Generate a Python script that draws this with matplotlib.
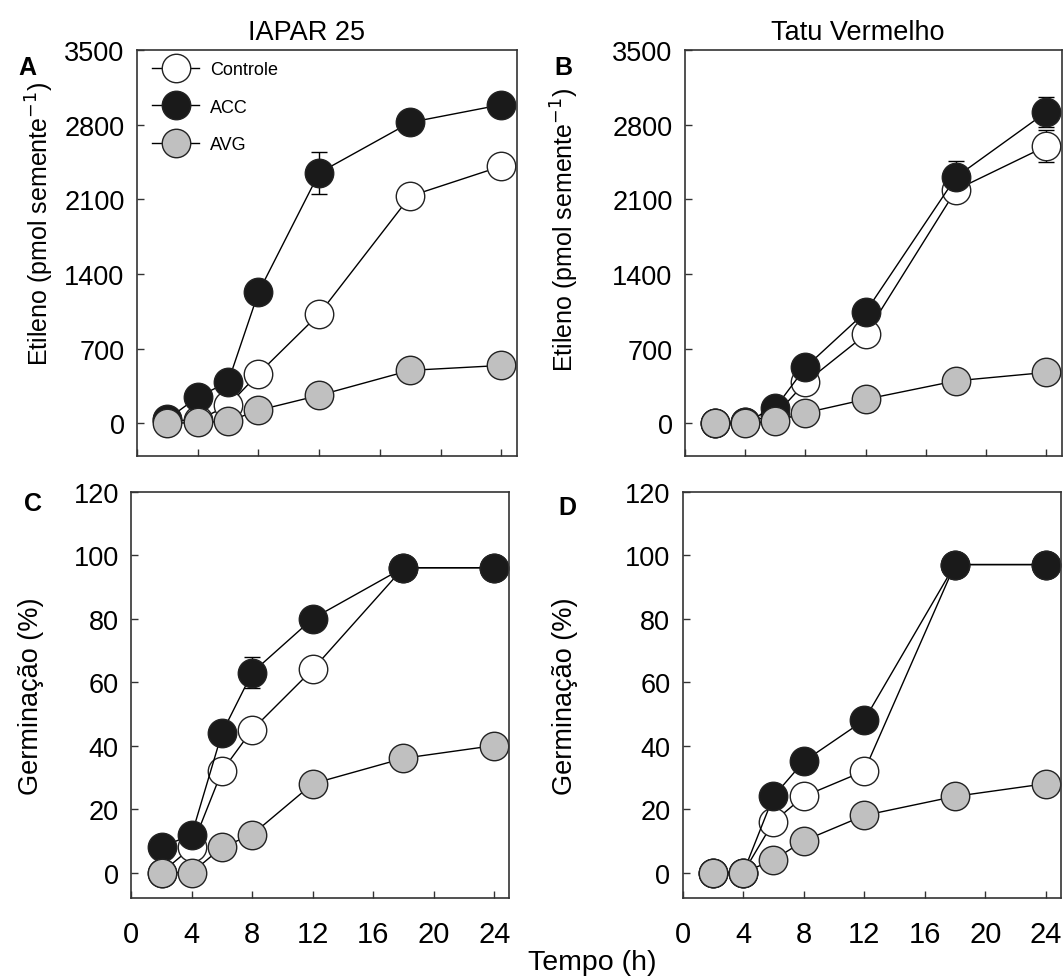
import matplotlib
matplotlib.use("Agg")
import matplotlib.pyplot as plt

plt.rcParams['font.family'] = ['Liberation Sans', 'DejaVu Sans']

# time points (h)
tempo = [2, 4, 6, 8, 12, 18, 24]

# A - IAPAR 25, etileno
a_controle = [30, 30, 170, 467, 1027, 2131, 2411]
a_acc = [40, 249, 389, 1229, 2349, 2822, 2987]
a_avg = [0, 10, 20, 124, 264, 498, 544]
a_acc_err = [0, 0, 0, 0, 195, 50, 90]
a_controle_err = [0, 0, 0, 0, 0, 30, 40]

# B - Tatu Vermelho, etileno
b_controle = [0, 10, 80, 385, 835, 2190, 2600]
b_acc = [0, 15, 148, 527, 1047, 2310, 2920]
b_avg = [0, 0, 22, 100, 227, 400, 479]
b_acc_err = [0, 0, 0, 0, 0, 150, 140]
b_controle_err = [0, 0, 0, 0, 0, 100, 150]

# C - IAPAR 25, germinacao
c_controle = [0, 8, 32, 45, 64, 96, 96]
c_acc = [8, 12, 44, 63, 80, 96, 96]
c_avg = [0, 0, 8, 12, 28, 36, 40]
c_acc_err = [0, 0, 0, 5, 0, 0, 0]

# D - Tatu Vermelho, germinacao
d_controle = [0, 0, 16, 24, 32, 97, 97]
d_acc = [0, 0, 24, 35, 48, 97, 97]
d_avg = [0, 0, 4, 10, 18, 24, 28]

labels = ["Controle", "ACC", "AVG"]
faces = ["white", "#1a1a1a", "#c0c0c0"]

fig = plt.figure(figsize=(10.64, 9.79), dpi=100)
axA = fig.add_axes([0.1288, 0.5337, 0.3567, 0.4142])
axB = fig.add_axes([0.6438, 0.5337, 0.3539, 0.4142])
axC = fig.add_axes([0.1234, 0.0817, 0.3553, 0.4152])
axD = fig.add_axes([0.6417, 0.0817, 0.3553, 0.4152])


def draw(ax, series, errs):
    for ys, err, lab, fc in zip(series, errs, labels, faces):
        ax.errorbar(tempo, ys, yerr=err, color="black", lw=1.0, elinewidth=1.0,
                    capsize=6, capthick=1.0, marker="o", ms=20.5, mfc=fc,
                    mec="#222222", mew=1.0, label=lab, clip_on=False)


zeros = [0] * 7
draw(axA, [a_controle, a_acc, a_avg], [a_controle_err, a_acc_err, zeros])
draw(axB, [b_controle, b_acc, b_avg], [b_controle_err, b_acc_err, zeros])
draw(axC, [c_controle, c_acc, c_avg], [zeros, c_acc_err, zeros])
draw(axD, [d_controle, d_acc, d_avg], [zeros, zeros, zeros])

for ax in [axA, axB, axC, axD]:
    ax.set_xlim(0, 25)
    ax.set_xticks([0, 4, 8, 12, 16, 20, 24])
    ax.tick_params(direction="in", length=5, width=1, color="#333333",
                   top=False, right=False)
    ax.tick_params(axis="y", labelsize=19.5, pad=9)
    ax.tick_params(axis="x", labelsize=21, pad=16)
    for s in ax.spines.values():
        s.set_color("#333333")
        s.set_linewidth(1.2)

for ax in [axA, axB]:
    ax.set_ylim(-300, 3500)
    ax.set_yticks([0, 700, 1400, 2100, 2800, 3500])
    ax.tick_params(axis="x", labelbottom=False)
    ax.set_ylabel("Etileno (pmol semente$^{-1}$)", fontsize=18)

for ax in [axC, axD]:
    ax.set_ylim(-8, 120)
    ax.set_yticks([0, 20, 40, 60, 80, 100, 120])
    ax.set_ylabel("Germinação (%)", fontsize=19.5)

axA.yaxis.set_label_coords(-0.213, 0.575)
axB.yaxis.set_label_coords(-0.277, 0.56)
axC.yaxis.set_label_coords(-0.23, 0.5)
axD.yaxis.set_label_coords(-0.277, 0.5)

axA.legend(loc="upper left", bbox_to_anchor=(0.012, 1.0), frameon=False,
           fontsize=13, handlelength=2.6, handletextpad=0.6, labelspacing=1.15,
           borderaxespad=0.2)

fig.text(307 / 1064, 1 - 33 / 979, "IAPAR 25", fontsize=19.5, ha="center", va="center")
fig.text(858 / 1064, 1 - 33 / 979, "Tatu Vermelho", fontsize=19.5, ha="center", va="center")
fig.text(27 / 1064, 1 - 68 / 979, "A", fontsize=18, fontweight="bold", ha="center", va="center")
fig.text(563 / 1064, 1 - 68 / 979, "B", fontsize=18, fontweight="bold", ha="center", va="center")
fig.text(33 / 1064, 1 - 504 / 979, "C", fontsize=18, fontweight="bold", ha="center", va="center")
fig.text(567 / 1064, 1 - 508 / 979, "D", fontsize=18, fontweight="bold", ha="center", va="center")
fig.text(592 / 1064, 1 - 963 / 979, "Tempo (h)", fontsize=20.5, ha="center", va="center")

fig.savefig("out.png", dpi=100)
